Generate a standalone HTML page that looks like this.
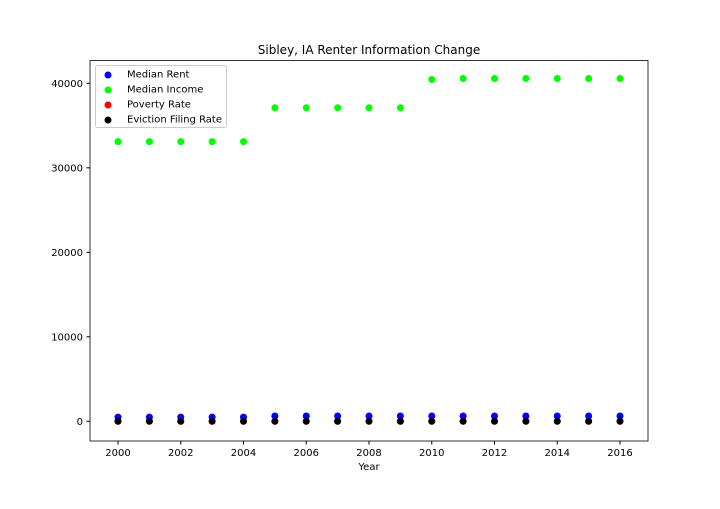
<!DOCTYPE html>
<html><head><meta charset="utf-8"><style>
body{margin:0;background:#fff;font-family:"Liberation Sans","DejaVu Sans",sans-serif;}
svg text{font-family:"DejaVu Sans","Liberation Sans",sans-serif;}
</style></head><body>
<svg id="chart" width="720" height="504" xmlns="http://www.w3.org/2000/svg">
<rect width="720" height="504" fill="#fff"/>
<text x="369" y="54" text-anchor="middle" font-size="12">Sibley, IA Renter Information Change</text>
<text x="369" y="470" text-anchor="middle" font-size="10">Year</text>
<g id="axes"></g>
<g id="marks"></g>
<rect x="90" y="60.5" width="558" height="380.5" fill="none" stroke="#000" stroke-width="0.8"/>
<g>
<rect x="95.5" y="65.5" width="131" height="62" rx="2" fill="#fff" stroke="#ccc"/>
<circle cx="108" cy="75" r="3.5" fill="#0000ff"/><text x="127" y="77.5" font-size="10">Median Rent</text>
<circle cx="108" cy="90" r="3.5" fill="#00ff00"/><text x="127" y="92.5" font-size="10">Median Income</text>
<circle cx="108" cy="105" r="3.5" fill="#ff0000"/><text x="127" y="107.5" font-size="10">Poverty Rate</text>
<circle cx="108" cy="120" r="3.5" fill="#000"/><text x="127" y="122.5" font-size="10">Eviction Filing Rate</text>
</g>
</svg>
<script>
const years=[2000,2001,2002,2003,2004,2005,2006,2007,2008,2009,2010,2011,2012,2013,2014,2015,2016];
const medianRent=[500,500,500,500,500,630,630,630,630,630,630,630,630,630,630,630,630];
const medianIncome=[33100,33100,33100,33100,33100,37100,37100,37100,37100,37100,40450,40570,40570,40570,40570,40570,40570];
const povertyRate=[10,10,10,10,10,8,8,8,8,8,7,7,7,7,7,7,7];
const evictionRate=[0,0,0,0,0,0,0,0,0,0,0,0,0,0,0,0,0];
const xTicks=[2000,2002,2004,2006,2008,2010,2012,2014,2016];
const yTicks=[0,10000,20000,30000,40000];
const NS="http://www.w3.org/2000/svg";
function xs(v){return 118+(v-2000)*31.375;}
function ys(v){return 421.3-v*0.00845;}
const axes=document.getElementById('axes');
const marks=document.getElementById('marks');
xTicks.forEach(t=>{
 const l=document.createElementNS(NS,'line');
 l.setAttribute('x1',xs(t));l.setAttribute('x2',xs(t));l.setAttribute('y1',441);l.setAttribute('y2',444.5);l.setAttribute('stroke','#000');
 
 
 axes.appendChild(l);
 const tx=document.createElementNS(NS,'text');
 tx.setAttribute('x',xs(t));tx.setAttribute('y',456);tx.setAttribute('text-anchor','middle');tx.setAttribute('font-size','10');
 tx.textContent=t;
 
 
 axes.appendChild(tx);
});
yTicks.forEach(t=>{
 const l=document.createElementNS(NS,'line');
 l.setAttribute('x1',86.5);l.setAttribute('x2',90);l.setAttribute('y1',ys(t));l.setAttribute('y2',ys(t));l.setAttribute('stroke','#000');
 
 
 axes.appendChild(l);
 const tx=document.createElementNS(NS,'text');
 tx.setAttribute('x',83);tx.setAttribute('y',ys(t)+3.5);tx.setAttribute('text-anchor','end');tx.setAttribute('font-size','10');
 tx.textContent=t;
 
 
 axes.appendChild(tx);
});
function series(vals,color,name){
 vals.forEach((v,i)=>{
  const c=document.createElementNS(NS,'circle');
  c.setAttribute('cx',xs(years[i]));c.setAttribute('cy',ys(v));c.setAttribute('r',3.5);c.setAttribute('fill',color);
  
  
  marks.appendChild(c);
 });
}
series(medianRent,'#0000ff','median-rent-point');
series(medianIncome,'#00ff00','median-income-point');
series(povertyRate,'#ff0000','poverty-rate-point');
series(evictionRate,'#000000','eviction-rate-point');
</script>
</body></html>
